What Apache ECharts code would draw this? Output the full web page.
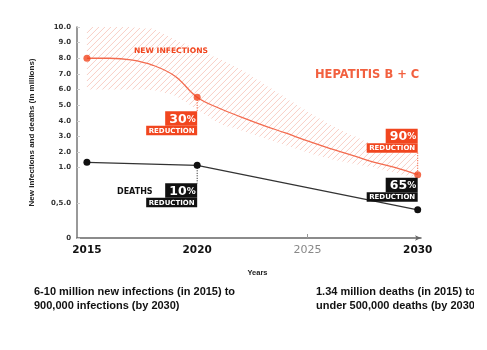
<!DOCTYPE html>
<html>
<head>
<meta charset="utf-8">
<script src="https://cdn.jsdelivr.net/npm/echarts@6/dist/echarts.min.js"></script>
<style>
  html, body { margin: 0; padding: 0; background: #fff; }
  #main { width: 487px; height: 350px; }
</style>
</head>
<body>
<div id="main"></div>
<script>
// values (millions)
const years = [2015, 2020, 2030];
const infections = [8.0, 5.5, 0.9];
const deaths = [1.34, 1.15, 0.4];
const reductionInf = ['30', '90'];
const reductionDeaths = ['10', '65'];

// infections curve as drawn
const curveYears = [2015, 2016, 2017, 2018, 2019, 2020, 2021, 2022, 2023, 2024, 2025, 2026, 2027, 2028, 2029, 2030];
const infectionsCurve = [8.0, 8.0, 7.9, 7.55, 6.85, 5.5, 4.8, 4.24, 3.71, 3.22, 2.71, 2.24, 1.81, 1.35, 1.0, 0.9];

// hatched range band
const bandYears = [2015, 2016, 2017, 2018, 2019, 2020, 2021, 2022, 2023, 2024, 2025, 2026, 2027, 2028, 2029, 2030];
const bandUpper = [10, 10, 10, 9.9, 9.2, 8.6, 8.0, 7.3, 6.4, 5.5, 4.6, 3.8, 3.1, 2.5, 2.1, 1.9];
const bandLower = [6.0, 6.0, 6.0, 5.95, 5.6, 4.7, 3.8, 3.35, 2.9, 2.4, 1.95, 1.55, 1.25, 1.0, 0.92, 0.85];

// axis ticks
const yTickValues = [0, 0.5, 1, 2, 3, 4, 5, 6, 7, 8, 9, 10];
const yTickLabels = ['0', '0,5.0', '1.0', '2.0', '3.0', '4.0', '5.0', '6.0', '7.0', '8.0', '9.0', '10.0'];
const xTickLabels = [2015, 2020, 2025, 2030];

const RED = '#f1461f';
const LINE_RED = '#f36b4f';
const HATCH = '#f9cfc6';

// the y axis is stretched below 1.0
function T(v) { return v <= 1 ? v * 4.5 : v + 3.5; }

const yPos = yTickValues.map(T);

// y of a pixel polyline at x
function yAt(pts, x) {
  for (let i = 0; i < pts.length - 1; i++) {
    if (x >= pts[i][0] && x <= pts[i + 1][0]) {
      const f = (x - pts[i][0]) / (pts[i + 1][0] - pts[i][0]);
      return pts[i][1] + f * (pts[i + 1][1] - pts[i][1]);
    }
  }
  return null;
}

function renderBand(params, api) {
  const up = bandYears.map((y, i) => api.coord([y, T(bandUpper[i])]));
  const lo = bandYears.map((y, i) => api.coord([y, T(bandLower[i])]));
  const x0 = up[0][0], x1 = up[up.length - 1][0];
  const top = Math.min.apply(null, up.map(p => p[1]));
  const bot = Math.max.apply(null, lo.map(p => p[1]));
  const lines = [];
  const step = 0.5;
  for (let c = x0 + top; c <= x1 + bot; c += 6) {
    let start = null, prev = null;
    for (let x = x0; x <= x1 + 0.01; x += step) {
      const y = c - x;
      const inside = y >= yAt(up, x) && y <= yAt(lo, x);
      if (inside && start === null) start = [x, y];
      if (!inside && start !== null) {
        lines.push([start, prev]);
        start = null;
      }
      prev = [x, y];
    }
    if (start !== null) lines.push([start, prev]);
  }
  return {
    type: 'group',
    children: lines.map(l => ({
      type: 'line',
      shape: { x1: l[0][0], y1: l[0][1], x2: l[1][0], y2: l[1][1] },
      style: { stroke: HATCH, lineWidth: 1 }
    }))
  };
}

const chart = echarts.init(document.getElementById('main'));

chart.setOption({
  animation: false,
  backgroundColor: '#fff',
  grid: { left: 77, right: 66, top: 27, bottom: 112, containLabel: false },
  xAxis: {
    type: 'value', min: 2014.55, max: 2030.15,
    axisLine: { lineStyle: { color: '#666', width: 1.5 }, symbol: ['none', 'arrow'], symbolSize: [4, 6] },
    axisTick: { customValues: [2025], inside: true, length: 4, lineStyle: { color: '#999' } },
    splitLine: { show: false },
    axisLabel: {
      customValues: xTickLabels, margin: 7,
      formatter: v => v === 2025 ? '{g|2025}' : '{b|' + v + '}',
      rich: {
        b: { fontFamily: 'DejaVu Sans', fontWeight: 'bold', fontSize: 10.5, color: '#111' },
        g: { fontFamily: 'DejaVu Sans', fontSize: 11, color: '#888' }
      }
    }
  },
  yAxis: {
    type: 'value', min: 0, max: 13.5,
    name: 'New infections and deaths (in millions)',
    nameLocation: 'middle', nameGap: 41,
    nameTextStyle: { fontFamily: 'Liberation Sans', fontWeight: 'bold', fontSize: 8, color: '#222' },
    axisLine: { show: true, lineStyle: { color: '#777', width: 1.5 } },
    axisTick: { show: true, customValues: yPos, inside: true, length: 3, lineStyle: { color: '#ccc' } },
    splitLine: { show: false },
    axisLabel: {
      customValues: yPos, margin: 6,
      fontFamily: 'DejaVu Sans', fontWeight: 'bold', fontSize: 7, color: '#333',
      formatter: v => {
        const i = yPos.findIndex(p => Math.abs(p - v) < 1e-6);
        return i >= 0 ? yTickLabels[i] : '';
      }
    }
  },
  series: [
    {
      type: 'custom', silent: true, z: 1,
      data: [[bandYears[0], T(bandLower[0])]],
      renderItem: renderBand
    },
    {
      type: 'line', smooth: 0.4, symbol: 'none', z: 3,
      lineStyle: { color: LINE_RED, width: 1.3 },
      data: curveYears.map((y, i) => [y, T(infectionsCurve[i])])
    },
    {
      type: 'line', symbol: 'circle', symbolSize: 7, z: 3,
      lineStyle: { color: '#333', width: 1.3 },
      itemStyle: { color: '#111' },
      data: years.map((y, i) => [y, T(deaths[i])])
    },
    {
      type: 'scatter', symbolSize: 7, itemStyle: { color: RED }, z: 5,
      data: years.map((y, i) => [y, T(infections[i])])
    }
  ]
});

function px(year, v) { return chart.convertToPixel({ gridIndex: 0 }, [year, T(v)]); }

function box(x, top, color, pct) {
  return [
    { type: 'rect', shape: { x: x - 32, y: top, width: 32, height: 14.5 }, style: { fill: color }, z: 10 },
    { type: 'rect', shape: { x: x - 51, y: top + 14.5, width: 51, height: 9.5 }, style: { fill: color }, z: 10 },
    {
      type: 'text', x: x - 1.5, y: top + 8, z: 11,
      style: {
        text: '{n|' + pct + '}{p|%}', align: 'right', verticalAlign: 'middle',
        rich: {
          n: { fontFamily: 'DejaVu Sans', fontWeight: 'bold', fontSize: 12.5, fill: '#fff' },
          p: { fontFamily: 'DejaVu Sans', fontWeight: 'bold', fontSize: 9, fill: '#fff' }
        }
      }
    },
    {
      type: 'text', x: x - 25.5, y: top + 19.5, z: 11,
      style: { text: 'REDUCTION', fill: '#fff', font: 'bold 7px "DejaVu Sans"', align: 'center', verticalAlign: 'middle' }
    }
  ];
}

function dotted(x, y1, y2, color) {
  return { type: 'line', z: 4, shape: { x1: x, y1: y1, x2: x, y2: y2 }, style: { stroke: color, lineWidth: 1, lineDash: [1, 1.5] } };
}

const i20 = px(2020, infections[1]);
const i30 = px(2030, infections[2]);
const d20 = px(2020, deaths[1]);
const d30 = px(2030, deaths[2]);

let g = [];
g.push(dotted(i20[0], i20[1], i20[1] + 14, RED));
g = g.concat(box(i20[0], i20[1] + 14, RED, reductionInf[0]));
g.push(dotted(i30[0], i30[1] - 22, i30[1], RED));
g = g.concat(box(i30[0], i30[1] - 46, RED, reductionInf[1]));
g.push(dotted(d20[0], d20[1], d20[1] + 18, '#111'));
g = g.concat(box(d20[0], d20[1] + 18, '#111', reductionDeaths[0]));
g = g.concat(box(d30[0], d30[1] - 32, '#111', reductionDeaths[1]));

g.push(
  { type: 'text', x: 134, y: 51, z: 10, style: { text: 'NEW INFECTIONS', fill: RED, font: 'bold 7.6px "DejaVu Sans"', verticalAlign: 'middle' } },
  { type: 'text', x: 315, y: 75, z: 10, style: { text: 'HEPATITIS B + C', fill: '#f2603f', font: 'bold 11.5px "DejaVu Sans"', verticalAlign: 'middle' } },
  { type: 'text', x: 117, y: 192, z: 10, style: { text: 'DEATHS', fill: '#111', font: 'bold 8px "DejaVu Sans"', verticalAlign: 'middle' } },
  { type: 'text', x: 257.5, y: 273, style: { text: 'Years', fill: '#222', font: 'bold 7.5px "Liberation Sans"', align: 'center', verticalAlign: 'middle' } },
  { type: 'text', x: 34, y: 292, style: { text: '6-10 million new infections (in 2015) to', fill: '#111', font: 'bold 11px "Liberation Sans"', verticalAlign: 'middle' } },
  { type: 'text', x: 34, y: 306, style: { text: '900,000 infections (by 2030)', fill: '#111', font: 'bold 11px "Liberation Sans"', verticalAlign: 'middle' } },
  { type: 'text', x: 316, y: 292, style: { text: '1.34 million deaths (in 2015) to', fill: '#111', font: 'bold 11px "Liberation Sans"', verticalAlign: 'middle' } },
  { type: 'text', x: 316, y: 306, style: { text: 'under 500,000 deaths (by 2030)', fill: '#111', font: 'bold 11px "Liberation Sans"', verticalAlign: 'middle' } },
  { type: 'rect', z: 20, shape: { x: 474, y: 280, width: 13, height: 40 }, style: { fill: '#fff' } }
);

chart.setOption({ graphic: g });
</script>
</body>
</html>
